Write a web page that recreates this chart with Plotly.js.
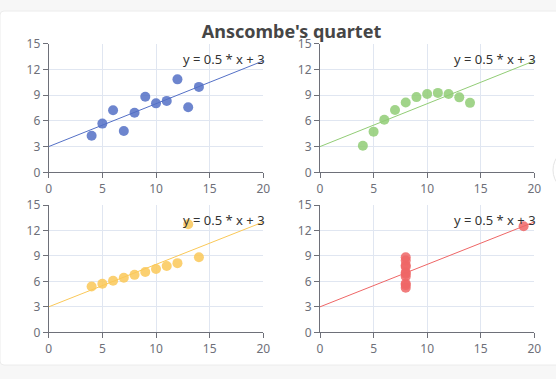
<!DOCTYPE html>
<html><head><meta charset="utf-8">
<script src="https://cdn.plot.ly/plotly-3.0.1.min.js"></script>
<style>html,body{margin:0;padding:0;background:#f7f7f7}#chart{width:556px;height:379px}</style>
</head><body><div id="chart"></div>
<script>
const titleText = "Anscombe's quartet";
const x1 = [10, 8, 13, 9, 11, 14, 6, 4, 12, 7, 5];
const y1 = [8.04, 6.95, 7.58, 8.81, 8.33, 9.96, 7.24, 4.26, 10.84, 4.82, 5.68];
const x2 = [10, 8, 13, 9, 11, 14, 6, 4, 12, 7, 5];
const y2 = [9.14, 8.14, 8.74, 8.77, 9.26, 8.10, 6.13, 3.10, 9.13, 7.26, 4.74];
const x3 = [10, 8, 13, 9, 11, 14, 6, 4, 12, 7, 5];
const y3 = [7.46, 6.77, 12.74, 7.11, 7.81, 8.84, 6.08, 5.39, 8.15, 6.42, 5.73];
const x4 = [8, 8, 8, 8, 8, 8, 8, 19, 8, 8, 8];
const y4 = [6.58, 5.76, 7.71, 8.84, 8.47, 7.04, 5.25, 12.50, 5.56, 7.91, 6.89];
const lineX = [0, 20];
const lineY = [3, 13];
const lineLabel = "y = 0.5 * x + 3";
const colors = ["#5470c6", "#91cc75", "#fac858", "#ee6666"];
const xTicks = [0, 5, 10, 15, 20];
const yTicks = [0, 3, 6, 9, 12, 15];

const sets = [[x1, y1], [x2, y2], [x3, y3], [x4, y4]];
const W = 556, H = 379;
const xDom = [[48.7 / W, 263.3 / W], [320 / W, 534.3 / W]];
const yDom = [[1 - 172.3 / H, 1 - 43.7 / H], [1 - 332.3 / H, 1 - 205 / H]];

const traces = [];
const layout = {
  width: W, height: H,
  margin: {l: 0, r: 0, t: 0, b: 0},
  paper_bgcolor: "#f7f7f7", plot_bgcolor: "rgba(0,0,0,0)",
  showlegend: false,
  font: {family: "Noto Sans, sans-serif", color: "#6e7079", size: 12},
  title: {text: "<b>" + titleText + "</b>", x: 291.5 / W, xanchor: "center", y: 1 - 32 / H, yanchor: "middle",
          font: {size: 18, color: "#464646", family: "Noto Sans, sans-serif"}},
  shapes: [
    {type: "path", xref: "paper", yref: "paper", layer: "below",
     path: "M " + (0 / W) + " " + (1 - 15 / H) + " Q 0 " + (1 - 11 / H) + " " + (4 / W) + " " + (1 - 11 / H) +
           " L 1.02 " + (1 - 11 / H) + " L 1.02 " + (1 - 365 / H) + " L " + (4 / W) + " " + (1 - 365 / H) +
           " Q 0 " + (1 - 365 / H) + " 0 " + (1 - 361 / H) + " Z",
     fillcolor: "#ffffff", line: {color: "#ececec", width: 1}},
    {type: "circle", xref: "paper", yref: "paper", layer: "above",
     x0: 553 / W, x1: 600 / W, y0: 1 - 193 / H, y1: 1 - 147 / H,
     fillcolor: "#ffffff", line: {color: "#e4e4e4", width: 1}}
  ],
  annotations: []
};

sets.forEach((s, i) => {
  const idx = i + 1;
  const xa = idx === 1 ? "x" : "x" + idx;
  const ya = idx === 1 ? "y" : "y" + idx;
  traces.push({x: lineX, y: lineY, xaxis: xa, yaxis: ya, type: "scatter", mode: "lines",
               line: {color: colors[i], width: 1}, hoverinfo: "skip"});
  traces.push({x: s[0], y: s[1], xaxis: xa, yaxis: ya, type: "scatter", mode: "markers",
               marker: {color: colors[i], size: 10, opacity: 0.85, line: {width: 0}}});
  const col = i % 2, row = Math.floor(i / 2);
  const axBase = {
    range: [0, 20], tickvals: xTicks, showgrid: true, gridcolor: "#e0e6f1", gridwidth: 1,
    zeroline: false, showline: true, linecolor: "#6e7079", linewidth: 1,
    ticks: "outside", ticklen: 5, tickcolor: "#6e7079",
    tickfont: {size: 12, color: "#6e7079"}, fixedrange: true
  };
  layout[idx === 1 ? "xaxis" : "xaxis" + idx] = Object.assign({}, axBase, {
    domain: xDom[col], anchor: ya, mirror: false});
  layout[idx === 1 ? "yaxis" : "yaxis" + idx] = Object.assign({}, axBase, {
    range: [0, 15], tickvals: yTicks, domain: yDom[row], anchor: xa, ticklen: 5});
  layout.annotations.push({x: lineX[1], y: lineY[1], xref: xa, yref: ya, text: lineLabel,
    showarrow: false, xanchor: "right", yanchor: "middle", xshift: 4, yshift: 2,
    font: {size: 13, color: "#333333", family: "Noto Sans, sans-serif"}});
});

Plotly.newPlot("chart", traces, layout, {displayModeBar: false, staticPlot: true});
</script></body></html>
